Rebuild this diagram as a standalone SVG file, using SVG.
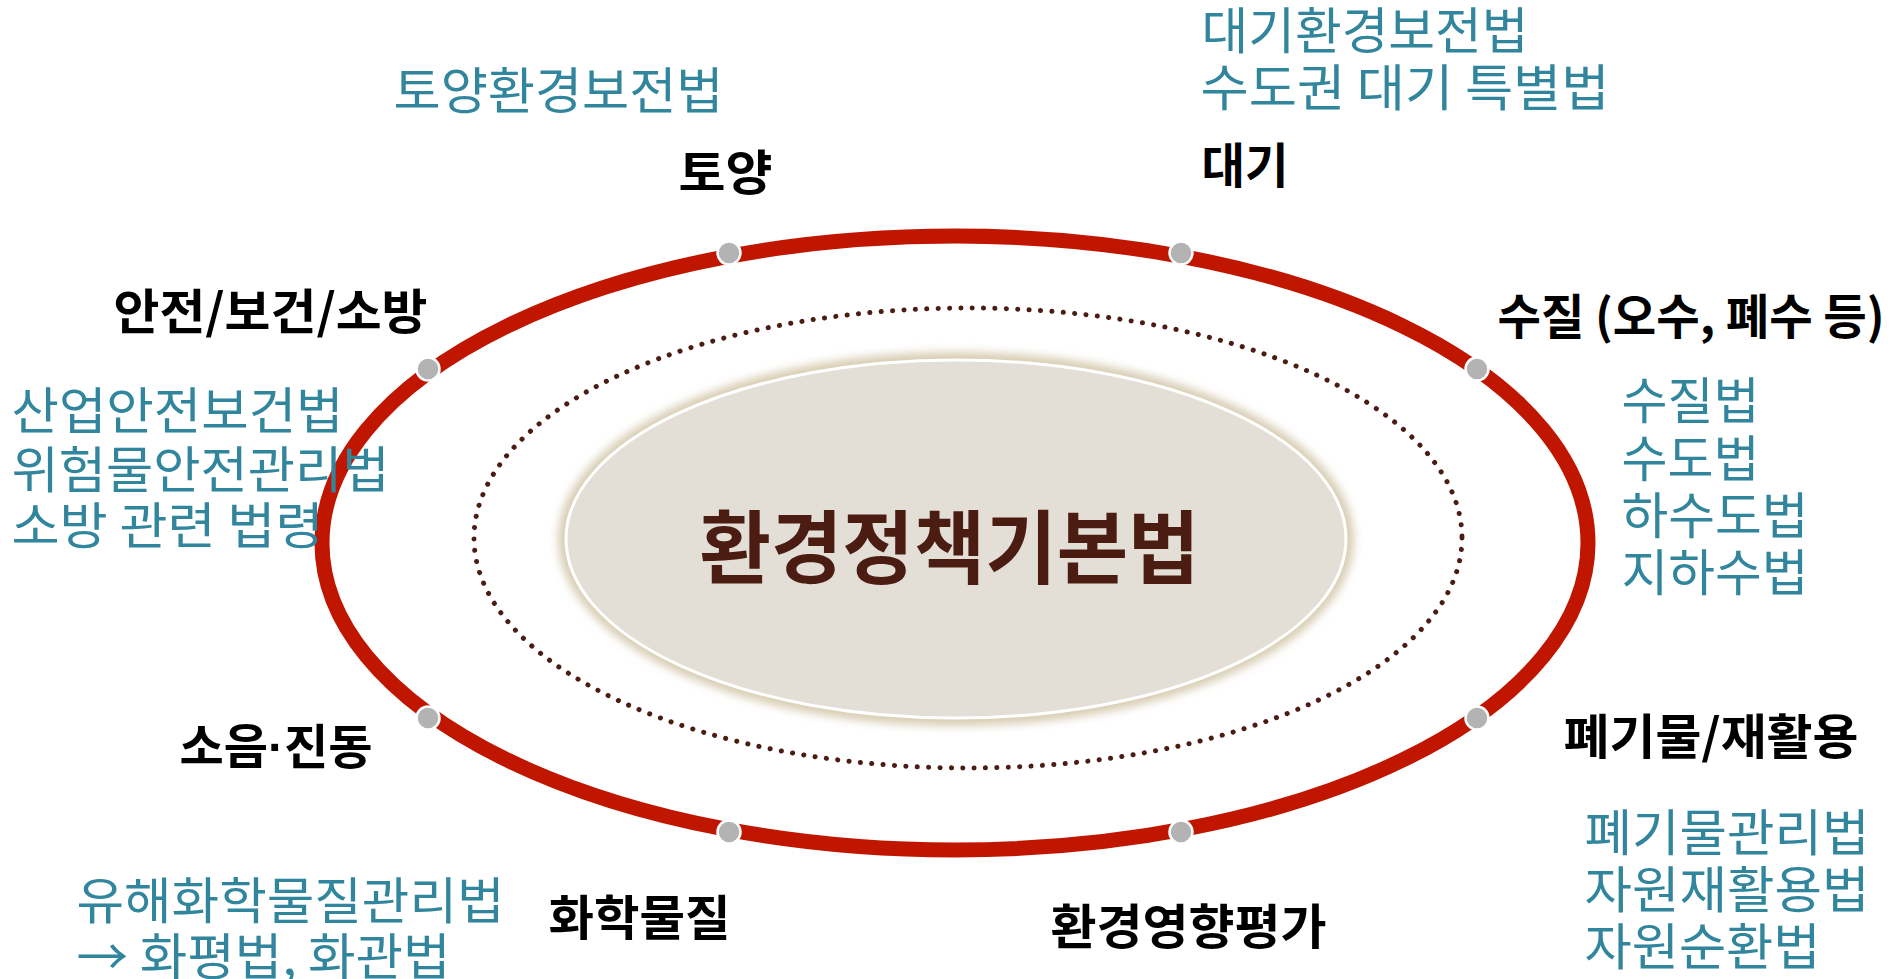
<svg xmlns="http://www.w3.org/2000/svg" width="1904" height="979" viewBox="0 0 1904 979">
<defs>
<style>
.law{font-family:"Noto Sans CJK KR","Noto Sans",sans-serif;font-size:50px;font-weight:400;fill:#31859c}
.lbl{font-family:"Noto Sans CJK KR","Noto Sans",sans-serif;font-size:48px;font-weight:700;fill:#000}
.dot{fill:#b3b3b3;stroke:#fff;stroke-width:2.5}
.title{font-family:"Noto Sans CJK KR","Noto Sans",sans-serif;font-size:80px;font-weight:700;fill:#4a1c12}
.narrow{font-family:"Liberation Sans",sans-serif}
</style>
<filter id="glow" x="-10%" y="-20%" width="120%" height="140%"><feGaussianBlur stdDeviation="4"/></filter>
</defs>
<rect width="1904" height="979" fill="#fff"/>

<g id="connectors">
<ellipse id="ring" cx="955" cy="543" rx="633" ry="307" fill="none" stroke="#c01600" stroke-width="15"/>
<ellipse id="dotted-ring" cx="968" cy="538" rx="494" ry="230" fill="none" stroke="#4a1c12" stroke-width="5" stroke-linecap="round" stroke-dasharray="0.1 11.3"/>
</g>

<g id="center">
<ellipse cx="956" cy="539" rx="398" ry="187" fill="#d8ceb4" filter="url(#glow)"/>
<ellipse cx="956" cy="539" rx="390" ry="179" fill="#e3dfd7" stroke="#fff" stroke-width="3"/>
<text class="title" x="699.5" y="577" textLength="500" lengthAdjust="spacingAndGlyphs">환경정책기본법</text>
</g>

<g id="node-soil">
<circle class="dot" cx="729" cy="253" r="11.5"/>
<text class="lbl" x="678.5" y="190" textLength="94" lengthAdjust="spacingAndGlyphs">토양</text>
<text class="law" x="393.5" y="109" textLength="330" lengthAdjust="spacingAndGlyphs">토양환경보전법</text>
</g>

<g id="node-air">
<circle class="dot" cx="1181" cy="253" r="11.5"/>
<text class="lbl" x="1201.5" y="183" textLength="87" lengthAdjust="spacingAndGlyphs">대기</text>
<text class="law" x="1201.5" y="49" textLength="327" lengthAdjust="spacingAndGlyphs">대기환경보전법</text>
<text class="law" x="1200.5" y="106" textLength="409" lengthAdjust="spacingAndGlyphs">수도권 대기 특별법</text>
</g>

<g id="node-safety">
<circle class="dot" cx="428" cy="369" r="11.5"/>
<text class="lbl" x="113.5" y="329" textLength="314" lengthAdjust="spacingAndGlyphs">안전/보건/소방</text>
<text class="law" x="11.5" y="429" textLength="332" lengthAdjust="spacingAndGlyphs">산업안전보건법</text>
<text class="law" x="11.5" y="488" textLength="378" lengthAdjust="spacingAndGlyphs">위험물안전관리법</text>
<text class="law" x="11.5" y="544" textLength="312" lengthAdjust="spacingAndGlyphs">소방 관련 법령</text>
</g>

<g id="node-water">
<circle class="dot" cx="1477" cy="369" r="11.5"/>
<text class="lbl" x="1497.5" y="334" textLength="387" lengthAdjust="spacingAndGlyphs">수질 (오수, 폐수 등)</text>
<text class="law" x="1621.5" y="419" textLength="138" lengthAdjust="spacingAndGlyphs">수질법</text>
<text class="law" x="1621.5" y="477" textLength="138" lengthAdjust="spacingAndGlyphs">수도법</text>
<text class="law" x="1621.5" y="534" textLength="187" lengthAdjust="spacingAndGlyphs">하수도법</text>
<text class="law" x="1621.5" y="591" textLength="187" lengthAdjust="spacingAndGlyphs">지하수법</text>
</g>

<g id="node-noise">
<circle class="dot" cx="428" cy="718" r="11.5"/>
<text class="lbl" x="179.5" y="764" textLength="193" lengthAdjust="spacingAndGlyphs">소음<tspan class="narrow">·</tspan>진동</text>
</g>

<g id="node-chemical">
<circle class="dot" cx="729" cy="832" r="11.5"/>
<text class="lbl" x="548.5" y="935" textLength="182" lengthAdjust="spacingAndGlyphs">화학물질</text>
<text class="law" x="76.5" y="919" textLength="428" lengthAdjust="spacingAndGlyphs">유해화학물질관리법</text>
<text class="law" x="76.5" y="975" textLength="374" lengthAdjust="spacingAndGlyphs">→ 화평법, 화관법</text>
</g>

<g id="node-eia">
<circle class="dot" cx="1181" cy="832" r="11.5"/>
<text class="lbl" x="1050.5" y="944" textLength="276" lengthAdjust="spacingAndGlyphs">환경영향평가</text>
</g>

<g id="node-waste">
<circle class="dot" cx="1477" cy="718" r="11.5"/>
<text class="lbl" x="1563.5" y="754" textLength="295" lengthAdjust="spacingAndGlyphs">폐기물/재활용</text>
<text class="law" x="1584.5" y="851" textLength="285" lengthAdjust="spacingAndGlyphs">폐기물관리법</text>
<text class="law" x="1584.5" y="908" textLength="285" lengthAdjust="spacingAndGlyphs">자원재활용법</text>
<text class="law" x="1584.5" y="965" textLength="236" lengthAdjust="spacingAndGlyphs">자원순환법</text>
</g>
</svg>
